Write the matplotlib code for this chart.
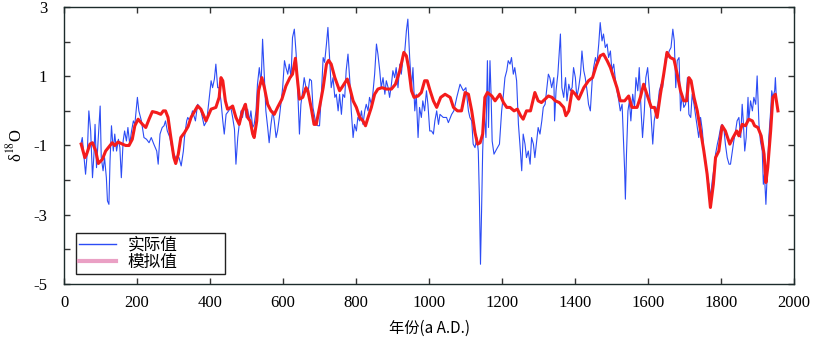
import matplotlib
matplotlib.use("Agg")
import matplotlib.pyplot as plt
from matplotlib.lines import Line2D
from matplotlib.patches import Rectangle

plt.rcParams['font.family'] = ['Liberation Serif', 'DejaVu Serif']
plt.rcParams['axes.unicode_minus'] = False
plt.rcParams['mathtext.fontset'] = 'stix'

# 实际值 (observed, blue)
obs_x = [47, 50, 55, 59, 64, 68, 73, 78, 82, 85, 89, 94, 99, 102, 107, 111, 116, 119, 123, 126,
         130, 135, 139, 144, 149, 153, 157, 162, 166, 171, 175, 180, 185, 190, 194, 201, 205, 212, 219, 226,
         233, 239, 246, 254, 258, 263, 269, 274, 278, 283, 290, 297, 306, 315, 321, 327, 330, 336, 339, 345,
         352, 360, 366, 373, 380, 384, 391, 398, 403, 407, 412, 416, 421, 425, 430, 435, 439, 444, 451, 457,
         462, 467, 471, 476, 480, 485, 489, 494, 499, 503, 508, 512, 517, 521, 526, 530, 535, 540, 544, 549,
         553, 558, 562, 567, 572, 576, 581, 585, 590, 594, 599, 604, 608, 613, 617, 622, 626, 631, 636, 640,
         645, 649, 654, 658, 663, 668, 673, 678, 682, 687, 691, 696, 700, 705, 710, 714, 719, 723, 728, 732,
         737, 742, 746, 751, 755, 760, 764, 769, 773, 778, 783, 787, 792, 796, 801, 805, 810, 815, 819, 824,
         828, 833, 837, 842, 846, 851, 856, 860, 865, 869, 874, 879, 883, 888, 892, 897, 901, 906, 910, 915,
         920, 924, 929, 933, 938, 942, 947, 952, 956, 961, 965, 970, 974, 979, 983, 988, 993, 997, 1002, 1007,
         1012, 1016, 1021, 1026, 1030, 1039, 1048, 1053, 1062, 1068, 1076, 1085, 1094, 1101, 1108, 1112, 1117, 1121, 1126, 1131,
         1135, 1138, 1140, 1141, 1144, 1147, 1151, 1156, 1160, 1163, 1167, 1170, 1173, 1178, 1185, 1193, 1199, 1204, 1208, 1213,
         1217, 1222, 1226, 1231, 1235, 1240, 1245, 1249, 1254, 1258, 1263, 1267, 1272, 1277, 1281, 1286, 1290, 1295, 1299, 1304,
         1309, 1313, 1318, 1322, 1327, 1331, 1336, 1342, 1344, 1348, 1353, 1360, 1364, 1369, 1374, 1378, 1383, 1387, 1392, 1396,
         1401, 1405, 1410, 1415, 1419, 1424, 1428, 1433, 1437, 1442, 1447, 1451, 1456, 1460, 1465, 1469, 1474, 1478, 1483, 1488,
         1492, 1497, 1501, 1506, 1510, 1515, 1520, 1524, 1529, 1533, 1536, 1538, 1541, 1545, 1549, 1553, 1558, 1563, 1567, 1572,
         1576, 1581, 1585, 1590, 1594, 1599, 1604, 1608, 1613, 1617, 1622, 1627, 1631, 1636, 1640, 1645, 1649, 1654, 1658, 1663,
         1668, 1672, 1676, 1680, 1685, 1689, 1694, 1698, 1703, 1708, 1712, 1717, 1721, 1726, 1730, 1735, 1739, 1744, 1749, 1753,
         1758, 1762, 1767, 1771, 1776, 1781, 1785, 1790, 1794, 1799, 1803, 1808, 1812, 1817, 1822, 1826, 1831, 1835, 1840, 1844,
         1849, 1854, 1858, 1861, 1865, 1869, 1874, 1876, 1881, 1886, 1890, 1895, 1899, 1904, 1908, 1913, 1916, 1919, 1923, 1927,
         1931, 1936, 1939, 1942, 1947, 1949, 1952, 1956]
obs_y = [-0.92, -0.77, -1.35, -1.83, -1.16, 0.0, -0.58, -1.93, -1.25, -0.39, -1.64, -0.77, 0.14, -1.35, -1.73, -1.35, -1.93, -2.6, -2.7, -1.45,
         -0.43, -1.16, -0.67, -1.16, -0.82, -1.06, -1.93, -0.87, -0.58, -0.87, -0.48, -0.96, -0.58, -0.29, -0.39, 0.39, 0.0, -0.29, -0.77, -0.82,
         -0.92, -0.77, -0.96, -1.16, -1.54, -0.67, -0.48, -0.43, -0.29, -0.58, -0.77, -1.16, -1.35, -1.35, -1.59, -1.16, -0.77, -0.29, -0.19, -0.29,
         0.0, -0.29, 0.19, 0.1, -0.24, -0.43, -0.29, 0.39, 0.87, 0.67, 0.92, 1.35, 0.67, 0.67, 0.29, -0.29, -0.67, -0.1, 0.0, 0.1,
         -0.19, -0.53, -1.54, -0.77, -0.39, 0.0, -0.19, 0.19, -0.19, 0.05, -0.29, 0.0, -0.48, -0.39, 0.0, 0.77, 1.25, 0.77, 2.07, 0.96,
         0.0, -0.48, -0.92, -0.39, 0.0, -0.29, -0.77, -0.58, -0.19, 0.19, 0.67, 1.45, 1.25, 1.06, 1.35, 0.96, 2.12, 2.36, 1.64, 0.67,
         -0.67, 0.19, 0.58, 0.96, 0.67, 0.48, 0.92, 0.87, 0.1, -0.19, -0.39, -0.43, -0.43, 0.48, 1.54, 1.4, 1.93, 2.41, 1.45, 0.67,
         0.96, 0.39, 0.48, 0.0, 0.48, -0.1, 0.48, 0.39, 1.16, 1.64, 0.87, 0.0, -0.77, -0.39, -0.58, -0.19, -0.29, 0.0, -0.39, 0.0,
         0.19, 0.0, 0.39, 0.19, 0.48, 1.06, 1.93, 1.64, 1.16, 0.67, 0.96, 0.48, 0.87, 0.67, 0.39, 0.77, 1.16, 0.96, 1.25, 0.67,
         1.35, 1.06, 1.54, 1.64, 2.31, 2.65, 1.54, 0.67, 1.25, 0.0, 0.48, -0.77, 0.1, -0.19, 0.29, 0.0, 0.58, 0.19, -0.58, -0.58,
         -0.67, -0.29, 0.0, -0.39, -0.1, -0.19, -0.19, -0.34, -0.1, 0.0, 0.39, 0.77, 0.58, 0.67, 0.0, -0.19, -0.29, -0.96, -1.06, -0.77,
         -1.16, -2.5, -3.76, -4.43, -2.89, -1.16, 0.0, -0.77, 1.45, -0.48, 1.45, 0.48, -0.87, -1.25, -1.11, -0.96, 0.0, 0.48, 0.96, 1.16,
         1.45, 1.35, 1.54, 1.06, 1.25, 0.87, -0.39, -0.96, -1.73, -0.67, -0.96, -1.35, -1.16, -1.54, -0.77, -0.96, -1.35, -0.87, -0.48, -0.67,
         -0.29, 0.1, 0.19, 0.58, 1.06, 0.96, 0.67, 0.96, -0.29, 0.58, 1.06, 2.22, 0.67, 0.39, 0.96, 0.29, 0.77, 0.58, 0.67, 1.25,
         0.96, 0.39, 0.67, 1.06, 1.73, 1.16, 0.96, 0.58, 0.19, 0.0, 0.87, 1.25, 1.54, 1.35, 1.93, 2.55, 2.02, 2.22, 1.83, 1.93,
         1.54, 1.73, 1.16, 1.35, 0.96, 0.58, 0.29, 0.0, 0.19, -0.87, -1.73, -2.55, -1.25, 0.0, 0.29, -0.29, 0.48, 0.1, 0.96, 0.58,
         1.25, 0.0, -0.77, 0.0, 0.96, 1.25, 0.58, -0.1, -0.96, -0.29, 0.0, 0.19, 0.58, 0.77, 0.67, 1.25, 1.64, 1.54, 1.73, 1.83,
         2.36, 2.02, 0.67, 1.45, 1.54, 0.0, 0.48, 0.1, 0.19, 0.96, -0.1, -0.19, 0.48, 0.19, -0.1, -0.48, -0.77, -0.19, -0.58, -1.16,
         -1.45, -1.93, -2.12, -2.5, -2.02, -1.64, -1.25, -0.96, -0.77, -0.48, -0.39, -0.53, -0.96, -1.35, -1.54, -1.54, -1.16, -0.87, -0.58, -0.29,
         -0.19, -0.77, 0.19, -0.29, -1.16, -0.77, 0.39, -0.29, 0.29, 0.0, 0.39, 0.19, 1.01, -0.39, -0.87, -1.16, -2.12, -1.83, -2.7, -1.73,
         -0.77, 0.0, 0.58, 0.39, 0.58, 0.96, 0.29, 0.0]

# 模拟值 (simulated, red)
sim_x = [47, 57, 62, 71, 78, 87, 94, 105, 114, 126, 132, 139, 148, 160, 169, 178, 187, 194, 203, 215,
         224, 233, 242, 254, 265, 272, 278, 285, 292, 301, 306, 313, 320, 330, 340, 348, 366, 375, 389, 403,
         416, 425, 430, 435, 442, 448, 457, 462, 471, 480, 489, 497, 503, 510, 517, 521, 528, 533, 542, 549,
         558, 567, 576, 585, 597, 608, 619, 626, 634, 638, 645, 654, 663, 668, 677, 685, 691, 700, 710, 719,
         725, 732, 742, 755, 764, 776, 783, 792, 801, 810, 819, 826, 833, 842, 851, 860, 871, 883, 897, 908,
         920, 931, 938, 944, 952, 959, 970, 979, 988, 995, 1003, 1012, 1021, 1032, 1044, 1058, 1067, 1078, 1089, 1099,
         1108, 1117, 1126, 1133, 1140, 1147, 1153, 1160, 1172, 1181, 1194, 1204, 1213, 1222, 1233, 1242, 1251, 1258, 1267, 1278,
         1290, 1299, 1308, 1318, 1327, 1337, 1346, 1357, 1369, 1375, 1383, 1392, 1401, 1410, 1424, 1437, 1448, 1458, 1469, 1478,
         1488, 1497, 1506, 1515, 1524, 1536, 1547, 1556, 1570, 1579, 1588, 1597, 1609, 1618, 1625, 1634, 1643, 1652, 1661, 1671,
         1680, 1689, 1698, 1706, 1712, 1718, 1726, 1735, 1744, 1753, 1762, 1771, 1779, 1785, 1794, 1803, 1812, 1824, 1833, 1843,
         1849, 1858, 1867, 1876, 1886, 1892, 1901, 1910, 1918, 1923, 1928, 1936, 1942, 1949, 1956]
sim_y = [-0.96, -1.35, -1.25, -0.96, -0.92, -1.16, -1.52, -1.4, -1.16, -1.0, -0.92, -1.0, -0.9, -0.96, -1.0, -1.0, -0.82, -0.43, -0.24, -0.39,
         -0.48, -0.24, -0.02, -0.05, -0.1, 0.0, 0.0, -0.19, -0.72, -1.35, -1.52, -1.25, -0.77, -0.63, -0.45, -0.19, 0.14, 0.05, -0.29, 0.05,
         0.1, 0.39, 0.96, 0.87, 0.29, 0.05, 0.1, 0.14, -0.19, -0.39, 0.0, 0.19, -0.19, -0.29, -0.67, -0.77, -0.29, 0.58, 0.96, 0.67,
         0.19, 0.0, -0.1, 0.1, 0.34, 0.72, 0.96, 1.06, 1.52, 1.06, 0.34, 0.39, 0.67, 0.58, 0.1, -0.39, -0.39, 0.1, 0.67, 1.35,
         1.46, 1.35, 0.96, 0.58, 0.72, 0.92, 0.67, 0.29, 0.1, -0.19, -0.29, -0.43, -0.19, 0.1, 0.48, 0.63, 0.67, 0.63, 0.63, 0.77,
         1.16, 1.69, 1.59, 1.25, 0.58, 0.39, 0.43, 0.53, 0.87, 0.87, 0.58, 0.29, 0.1, 0.39, 0.48, 0.39, 0.1, 0.0, 0.0, 0.53,
         0.48, 0.0, -0.63, -0.96, -0.92, -0.67, 0.39, 0.53, 0.43, 0.29, 0.48, 0.24, 0.1, 0.1, 0.0, 0.05, -0.14, -0.24, 0.0, 0.0,
         0.53, 0.29, 0.24, 0.34, 0.43, 0.39, 0.29, 0.24, 0.1, -0.14, 0.0, 0.58, 0.48, 0.34, 0.67, 0.87, 0.96, 1.3, 1.59, 1.64,
         1.45, 1.25, 0.96, 0.67, 0.29, 0.29, 0.43, 0.1, 0.1, 0.39, 0.77, 0.48, 0.1, 0.1, -0.19, 0.48, 1.06, 1.69, 1.54, 1.49,
         1.06, 0.58, 0.29, 0.29, 0.96, 0.87, 0.39, 0.0, -0.58, -1.16, -1.83, -2.79, -2.12, -1.35, -1.16, -0.43, -0.58, -0.96, -0.77, -0.58,
         -0.72, -0.39, -0.43, -0.24, -0.29, -0.43, -0.48, -0.72, -1.25, -2.07, -1.64, -0.58, 0.39, 0.48, 0.0]

x_ticks = list(range(0, 2001, 200))
y_ticks = list(range(-5, 4))
y_labels = [str(v) if v % 2 else '' for v in y_ticks]

fig = plt.figure(figsize=(8.24, 3.47), dpi=100)
ax = fig.add_axes([0.0777, 0.1816, 0.8859, 0.7982])

ax.plot(obs_x, obs_y, color='#2c4cf5', lw=0.8)
ax.plot(sim_x, sim_y, color='#f41c1c', lw=2.2)

ax.set_xlim(0, 2000)
ax.set_ylim(-5, 3)
ax.set_xticks(x_ticks)
ax.set_yticks(y_ticks)
ax.set_yticklabels(y_labels)
ax.tick_params(direction='in', top=True, right=True, length=4, width=1,
               labelsize=12, color='#333333')
ax.tick_params(axis='x', pad=8)
ax.tick_params(axis='y', pad=12)
for s in ax.spines.values():
    s.set_color('#1c2b2b')
    s.set_linewidth(1.0)

ax.set_xlabel('年份(a A.D.)', fontsize=11, family=['Noto Sans CJK SC', 'DejaVu Sans'], labelpad=6)
ax.set_ylabel('δ$^{18}$O', fontsize=12, labelpad=6)

# legend box is wider than its content in the original
ax.add_patch(Rectangle((0.0164, 0.036), 0.204, 0.148, transform=ax.transAxes,
                       facecolor='white', edgecolor='#222222', lw=1.0, zorder=4))
handles = [Line2D([], [], color='#2c4cf5', lw=1.0),
           Line2D([], [], color='#eaa0c4', lw=3.0)]
leg = ax.legend(handles, ['实际值', '模拟值'], loc='lower left',
                bbox_to_anchor=(0.016, 0.036), borderaxespad=0,
                frameon=False,
                prop={'family': ['Noto Sans CJK SC'], 'size': 12},
                handlelength=2.2, handletextpad=0.7, labelspacing=0.0,
                borderpad=0.2)
leg.set_zorder(5)

fig.savefig('out.png', dpi=100)
